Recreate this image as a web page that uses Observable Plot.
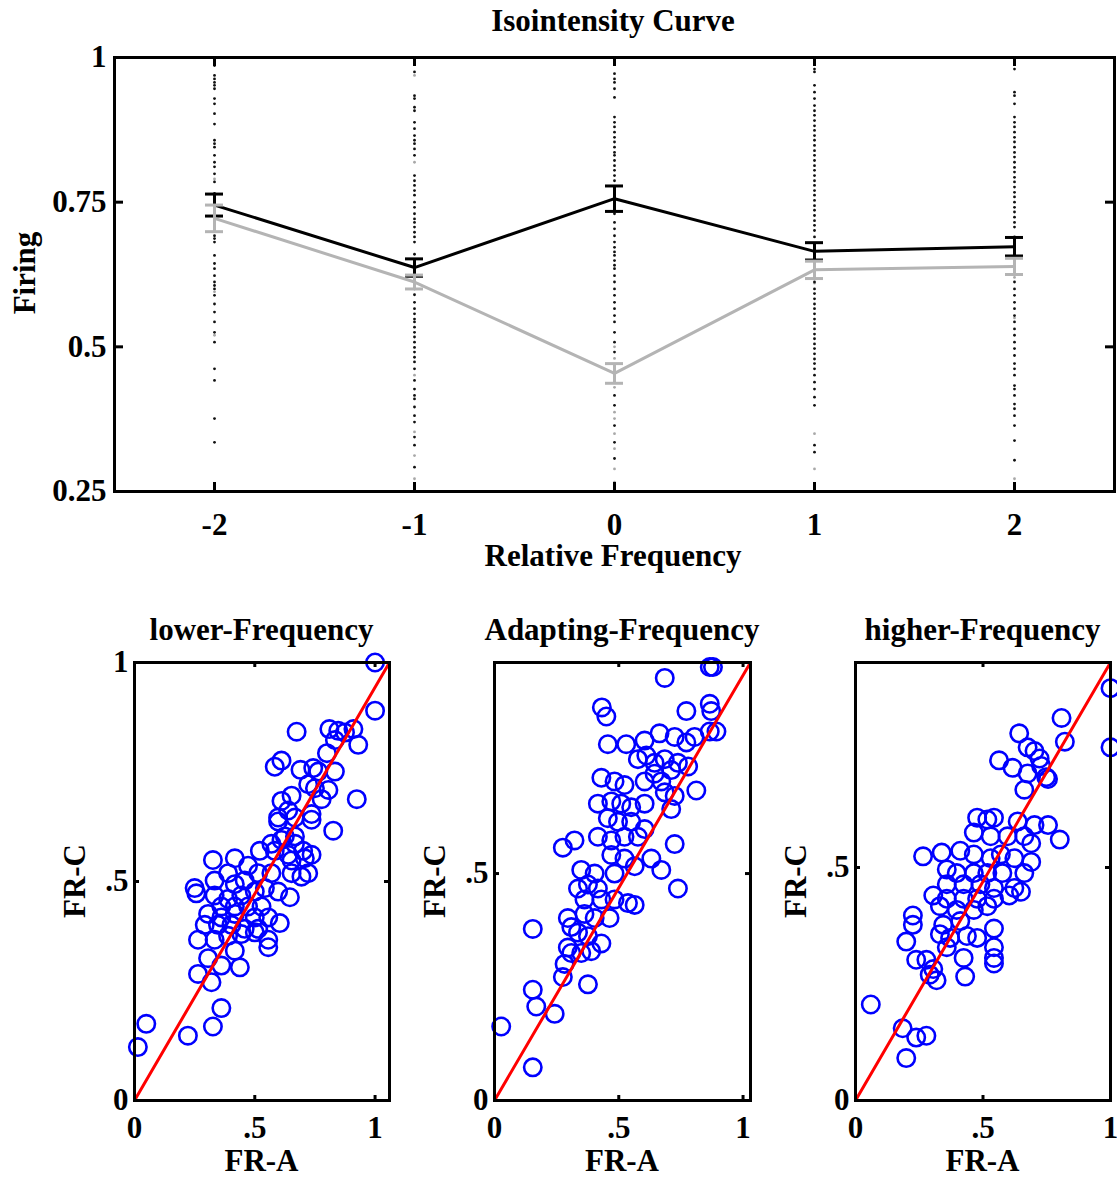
<!DOCTYPE html>
<html><head><meta charset="utf-8">
<script src="https://cdn.jsdelivr.net/npm/d3@7"></script>
<script src="https://cdn.jsdelivr.net/npm/@observablehq/plot@0.6"></script>
<style>
body{margin:0;background:#fff;}
#root{position:relative;width:1117px;height:1177px;overflow:hidden;font-family:"Liberation Serif","Times New Roman",serif;font-weight:bold;font-size:31px;color:#000;}
.lbl{position:absolute;white-space:nowrap;line-height:0.75;transform:translate(-50%,-50%);}
.rot{transform:translate(-50%,-50%) rotate(-90deg);}
.plot{position:absolute;}
</style></head><body><div id="root"></div>
<script>
// ---------- Top chart data ----------
const freqs = [-2, -1, 0, 1, 2];
const meanA = [0.745, 0.637, 0.756, 0.665, 0.673];
const semA  = [0.019, 0.015, 0.022, 0.015, 0.016];
const meanC = [0.722, 0.612, 0.454, 0.633, 0.639];
const semC  = [0.023, 0.012, 0.017, 0.015, 0.014];
const yTicksTop = [0.25, 0.5, 0.75, 1];
const xTicksTop = [-2, -1, 0, 1, 2];
const xDomainTop = [-2.5, 2.5];
const yDomainTop = [0.25, 1];

// individual cells (black) per relative frequency
const cellsM2 = [0.986,0.969,0.963,0.957,0.952,0.946,0.929,0.92,0.903,0.885,0.857,0.851,0.845,0.831,0.819,0.811,0.799,0.785,0.765,0.742,0.72,0.692,0.687,0.681,0.658,0.644,0.635,0.623,0.612,0.606,0.6,0.589,0.574,0.56,0.543,0.525,0.508,0.462,0.442,0.376,0.335,0.26,0.252];
const cellsM1 = [0.975,0.934,0.929,0.914,0.908,0.888,0.877,0.865,0.857,0.851,0.842,0.831,0.796,0.787,0.779,0.77,0.762,0.75,0.741,0.73,0.721,0.715,0.707,0.698,0.69,0.681,0.66,0.645,0.6,0.59,0.577,0.566,0.557,0.548,0.543,0.534,0.525,0.517,0.508,0.499,0.491,0.482,0.474,0.462,0.442,0.427,0.416,0.41,0.396,0.381,0.37,0.344,0.33,0.292,0.255];
const cells0  = [0.989,0.972,0.963,0.957,0.946,0.931,0.897,0.888,0.88,0.871,0.862,0.854,0.845,0.836,0.831,0.822,0.813,0.805,0.796,0.787,0.77,0.75,0.73,0.715,0.704,0.692,0.681,0.672,0.664,0.658,0.649,0.641,0.635,0.623,0.612,0.6,0.589,0.577,0.566,0.554,0.543,0.525,0.508,0.491,0.416,0.399,0.364,0.335,0.307,0.255];
const cellsP1 = [0.98,0.975,0.952,0.94,0.929,0.917,0.908,0.9,0.891,0.882,0.874,0.865,0.857,0.848,0.839,0.831,0.822,0.813,0.805,0.796,0.787,0.779,0.77,0.762,0.753,0.744,0.736,0.727,0.718,0.71,0.701,0.69,0.675,0.655,0.64,0.629,0.62,0.612,0.6,0.592,0.583,0.574,0.566,0.557,0.548,0.54,0.531,0.522,0.514,0.505,0.497,0.488,0.479,0.471,0.462,0.451,0.439,0.427,0.413,0.399,0.33,0.318,0.26,0.252];
const cellsP2 = [0.98,0.94,0.934,0.92,0.897,0.888,0.88,0.871,0.862,0.854,0.845,0.836,0.828,0.819,0.81,0.802,0.793,0.785,0.776,0.767,0.759,0.75,0.741,0.733,0.724,0.715,0.707,0.69,0.67,0.65,0.629,0.612,0.6,0.589,0.577,0.566,0.554,0.543,0.531,0.52,0.508,0.497,0.485,0.471,0.462,0.451,0.433,0.427,0.416,0.401,0.393,0.381,0.364,0.338,0.304,0.257];
// individual cells (grey)
const greyM2 = [0.79,0.75,0.71,0.595,0.52];
const greyM1 = [0.969,0.819,0.64,0.61,0.451,0.353,0.312,0.272];
const grey0  = [0.5,0.48,0.465,0.45,0.44,0.43,0.387,0.376,0.35,0.324,0.289,0.266];
const greyP1 = [0.61,0.35,0.289];
const greyP2 = [0.62,0.55,0.272];

// ---------- Scatter panel data ----------
const lowerX = [1.0,1.0,0.674,0.81,0.847,0.875,0.91,0.93,0.833,0.80,0.583,0.611,0.69,0.743,0.764,0.833,0.722,0.75,0.806,0.778,0.924,0.653,0.611,0.639,0.597,0.736,0.736,0.667,0.826,0.597,0.625,0.667,0.611,0.569,0.667,0.701,0.736,0.708,0.521,0.583,0.639,0.653,0.326,0.417,0.472,0.514,0.569,0.653,0.722,0.694,0.25,0.257,0.333,0.389,0.417,0.458,0.5,0.542,0.597,0.646,0.333,0.389,0.444,0.361,0.417,0.472,0.528,0.306,0.361,0.417,0.5,0.556,0.604,0.292,0.347,0.403,0.458,0.514,0.333,0.389,0.264,0.444,0.5,0.556,0.556,0.417,0.306,0.361,0.438,0.264,0.32,0.361,0.326,0.222,0.049,0.014];
const lowerY = [1.0,0.89,0.842,0.848,0.844,0.84,0.848,0.812,0.823,0.793,0.762,0.776,0.755,0.759,0.751,0.751,0.722,0.713,0.709,0.688,0.688,0.696,0.684,0.662,0.646,0.654,0.641,0.646,0.616,0.637,0.603,0.603,0.595,0.586,0.586,0.57,0.561,0.553,0.57,0.57,0.561,0.548,0.549,0.553,0.536,0.519,0.519,0.519,0.519,0.511,0.485,0.473,0.502,0.519,0.494,0.502,0.477,0.485,0.477,0.464,0.468,0.46,0.468,0.443,0.443,0.443,0.443,0.426,0.418,0.426,0.418,0.418,0.405,0.401,0.401,0.401,0.392,0.392,0.367,0.376,0.367,0.38,0.384,0.367,0.35,0.342,0.325,0.308,0.304,0.289,0.27,0.211,0.169,0.148,0.175,0.122];

const adaptX = [0.866,0.879,0.685,0.432,0.45,0.772,0.866,0.872,0.866,0.893,0.456,0.53,0.604,0.664,0.725,0.772,0.805,0.577,0.611,0.644,0.685,0.738,0.779,0.43,0.483,0.523,0.604,0.644,0.671,0.711,0.685,0.725,0.812,0.416,0.47,0.51,0.55,0.604,0.711,0.456,0.497,0.55,0.604,0.416,0.47,0.523,0.577,0.322,0.275,0.47,0.523,0.564,0.631,0.671,0.725,0.738,0.349,0.403,0.483,0.336,0.376,0.416,0.362,0.43,0.483,0.537,0.564,0.295,0.362,0.403,0.463,0.309,0.336,0.376,0.43,0.154,0.295,0.309,0.349,0.389,0.282,0.275,0.376,0.154,0.168,0.242,0.027,0.154];
const adaptY = [0.955,0.955,0.931,0.866,0.846,0.858,0.874,0.858,0.813,0.813,0.785,0.785,0.793,0.809,0.801,0.789,0.801,0.752,0.76,0.744,0.752,0.744,0.736,0.711,0.703,0.695,0.703,0.72,0.703,0.728,0.679,0.671,0.683,0.654,0.659,0.654,0.646,0.654,0.642,0.622,0.614,0.614,0.598,0.581,0.573,0.581,0.581,0.573,0.557,0.541,0.533,0.516,0.533,0.508,0.565,0.467,0.508,0.5,0.5,0.467,0.476,0.467,0.443,0.443,0.443,0.435,0.431,0.402,0.411,0.402,0.402,0.382,0.37,0.362,0.346,0.378,0.337,0.325,0.325,0.329,0.301,0.272,0.256,0.244,0.207,0.191,0.163,0.073];

const higherX = [1.0,1.0,0.808,0.821,0.642,0.563,0.616,0.675,0.702,0.722,0.728,0.675,0.748,0.755,0.662,0.477,0.517,0.543,0.636,0.702,0.755,0.801,0.464,0.53,0.596,0.662,0.689,0.265,0.338,0.411,0.464,0.53,0.57,0.623,0.689,0.358,0.397,0.464,0.517,0.576,0.662,0.358,0.424,0.49,0.543,0.623,0.649,0.305,0.358,0.424,0.477,0.543,0.603,0.331,0.397,0.464,0.517,0.225,0.225,0.344,0.411,0.331,0.371,0.437,0.477,0.543,0.543,0.199,0.358,0.543,0.543,0.424,0.238,0.278,0.305,0.318,0.291,0.43,0.06,0.185,0.238,0.278,0.199];
const higherY = [0.885,0.758,0.821,0.77,0.788,0.73,0.714,0.758,0.75,0.734,0.718,0.702,0.694,0.69,0.667,0.607,0.603,0.607,0.599,0.591,0.591,0.56,0.575,0.567,0.567,0.567,0.552,0.524,0.532,0.536,0.528,0.52,0.528,0.52,0.512,0.496,0.488,0.488,0.488,0.488,0.488,0.464,0.464,0.464,0.456,0.456,0.448,0.44,0.433,0.433,0.433,0.433,0.44,0.417,0.409,0.409,0.417,0.397,0.377,0.377,0.385,0.357,0.349,0.353,0.349,0.369,0.329,0.341,0.329,0.306,0.294,0.306,0.302,0.302,0.282,0.258,0.27,0.266,0.206,0.155,0.135,0.139,0.091];

const scatterTicks = [0, 0.5, 1];
const lowerDomX = [0, 1.06], lowerDomY = [0, 1];
const adaptDomX = [0, 1.03], adaptDomY = [0, 0.965];
const higherDomX = [0, 1.0], higherDomY = [0, 0.94];

// ---------- build ----------
const root = document.getElementById("root");
const baseStyle = {fontFamily: '"Liberation Serif","Times New Roman",serif', fontSize: "31px", fontWeight: "bold", background: "transparent", overflow: "visible", color: "#000"};

function place(svg, left, top) {
  svg.classList.add("plot");
  svg.style.left = left + "px";
  svg.style.top = top + "px";
  root.appendChild(svg);
}
function label(text, x, y, rotate) {
  const d = document.createElement("div");
  d.className = "lbl" + (rotate ? " rot" : "");
  d.textContent = text;
  d.style.left = x + "px";
  d.style.top = y + "px";
  root.appendChild(d);
}

const rowsA = freqs.map((x, i) => ({x, y: meanA[i], lo: meanA[i] - semA[i], hi: meanA[i] + semA[i]}));
const rowsC = freqs.map((x, i) => ({x, y: meanC[i], lo: meanC[i] - semC[i], hi: meanC[i] + semC[i]}));
const cellCols = [cellsM2, cellsM1, cells0, cellsP1, cellsP2];
const greyCols = [greyM2, greyM1, grey0, greyP1, greyP2];
const cellDots = freqs.flatMap((x, i) => cellCols[i].map(y => ({x, y})));
const greyDots = freqs.flatMap((x, i) => greyCols[i].map(y => ({x, y})));
const capHalf = 0.045;
function errMarks(rows, color) {
  return [
    Plot.ruleX(rows, {x: "x", y1: "lo", y2: "hi", stroke: color, strokeWidth: 3}),
    Plot.ruleY(rows, {y: "hi", x1: d => d.x - capHalf, x2: d => d.x + capHalf, stroke: color, strokeWidth: 3}),
    Plot.ruleY(rows, {y: "lo", x1: d => d.x - capHalf, x2: d => d.x + capHalf, stroke: color, strokeWidth: 3}),
    Plot.line(rows, {x: "x", y: "y", stroke: color, strokeWidth: 3})
  ];
}

const TW = 1117, TH = 600, TL = 114, TR = 3, TT = 57, TB = 109;
const tpw = TW - TL - TR, tph = TH - TT - TB, tick = 9;
const topPlot = Plot.plot({
  width: TW, height: TH, marginLeft: TL, marginRight: TR, marginTop: TT, marginBottom: TB,
  style: baseStyle,
  x: {domain: xDomainTop},
  y: {domain: yDomainTop},
  marks: [
    Plot.dot(greyDots, {x: "x", y: "y", r: 1.4, fill: "#a8a8a8"}),
    Plot.dot(cellDots, {x: "x", y: "y", r: 1.4, fill: "#111"}),
    ...errMarks(rowsA, "#000"),
    ...errMarks(rowsC, "#b4b4b4"),
    Plot.tickY(yTicksTop, {y: d => d, insetRight: tpw - tick, stroke: "#000", strokeWidth: 3}),
    Plot.tickY(yTicksTop, {y: d => d, insetLeft: tpw - tick, stroke: "#000", strokeWidth: 3}),
    Plot.tickX(xTicksTop, {x: d => d, insetTop: tph - tick, stroke: "#000", strokeWidth: 3}),
    Plot.tickX(xTicksTop, {x: d => d, insetBottom: tph - tick, stroke: "#000", strokeWidth: 3}),
    Plot.axisX(xTicksTop, {tickSize: 0, tickPadding: 21, label: null, tickFormat: d => String(d)}),
    Plot.axisY(yTicksTop, {tickSize: 0, tickPadding: 8, label: null, tickFormat: d => String(d)}),
    Plot.frame({stroke: "#000", strokeWidth: 3})
  ]
});
place(topPlot, 0, 0);
label("Isointensity Curve", 613, 21);
label("Relative Frequency", 613, 556);
label("Firing", 25, 273, true);

const fmtS = d => d === 0 ? "0" : d === 1 ? "1" : ".5";
function panel(xs, ys, domX, domY, left, width, mL, mR, title) {
  const top = 640, H = 537, mT = 22, mB = 77;
  const pw = width - mL - mR, ph = H - mT - mB;
  const pts = xs.map((x, i) => ({x, y: ys[i]}));
  const diag = [{x: domX[0], y: domY[0]}, {x: domX[1], y: domY[1]}];
  const tx = scatterTicks.filter(t => t <= domX[1] + 1e-9);
  const ty = scatterTicks.filter(t => t <= domY[1] + 1e-9);
  const p = Plot.plot({
    width, height: H, marginLeft: mL, marginRight: mR, marginTop: mT, marginBottom: mB,
    style: baseStyle,
    x: {domain: domX}, y: {domain: domY},
    marks: [
      Plot.dot(pts, {x: "x", y: "y", r: 8.7, stroke: "#0000ff", strokeWidth: 2.6, fill: "none"}),
      Plot.line(diag, {x: "x", y: "y", stroke: "#ff0000", strokeWidth: 3}),
      Plot.tickY(ty, {y: d => d, insetRight: pw - 5, stroke: "#000", strokeWidth: 3}),
      Plot.tickY(ty, {y: d => d, insetLeft: pw - 5, stroke: "#000", strokeWidth: 3}),
      Plot.tickX(tx, {x: d => d, insetTop: ph - 5, stroke: "#000", strokeWidth: 3}),
      Plot.tickX(tx, {x: d => d, insetBottom: ph - 5, stroke: "#000", strokeWidth: 3}),
      Plot.axisX(tx, {tickSize: 0, tickPadding: 15, label: null, tickFormat: fmtS}),
      Plot.axisY(ty, {tickSize: 0, tickPadding: 6, label: null, tickFormat: fmtS}),
      Plot.frame({stroke: "#000", strokeWidth: 3})
    ]
  });
  place(p, left, top);
  const cx = left + mL + pw / 2;
  label(title, cx, 630);
  label("FR-A", cx, 1161);
  label("FR-C", left + mL - 59, top + mT + ph / 2, true);
}
panel(lowerX, lowerY, lowerDomX, lowerDomY, 0, 400, 134, 11, "lower-Frequency");
panel(adaptX, adaptY, adaptDomX, adaptDomY, 400, 370, 94, 20, "Adapting-Frequency");
panel(higherX, higherY, higherDomX, higherDomY, 770, 347, 85, 7, "higher-Frequency");
</script></body></html>
